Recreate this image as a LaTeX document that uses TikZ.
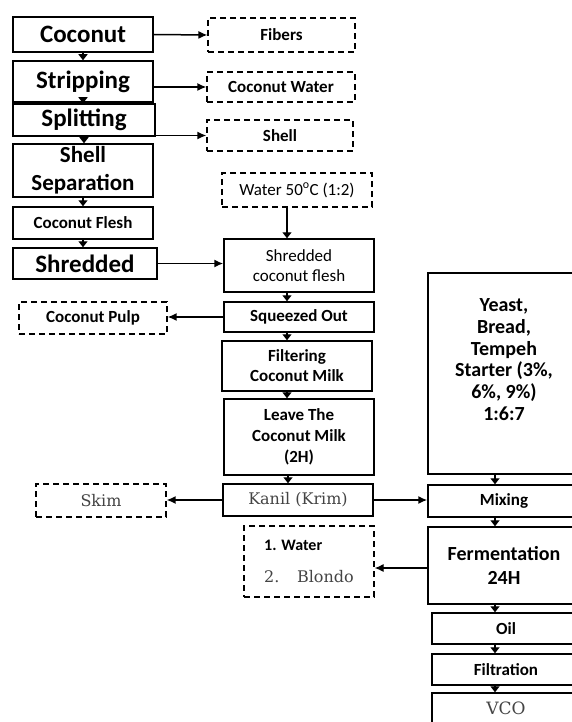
\documentclass[tikz,border=0pt]{standalone}
\usepackage{fontspec}
\setmainfont{Carlito}
\newfontfamily\serifg{DejaVu Serif}
\usetikzlibrary{arrows.meta,calc}
\definecolor{txtgray}{HTML}{444444}
\begin{document}
\begin{tikzpicture}[x=1pt,y=-1pt,
  box/.style={draw, line width=1.5pt, align=center, inner sep=1pt, font=\bfseries\fontsize{17}{20}\selectfont},
  dbox/.style={box, dash pattern=on 6pt off 4pt, line width=1.2pt},
  sz/.style 2 args={minimum width=#1, minimum height=#2},
  big/.style={font=\bfseries\fontsize{25}{28}\selectfont},
  serif/.style={font=\serifg\fontsize{16}{20}\selectfont, text=txtgray},
  harr/.style={line width=1.5pt, -{Latex[length=9pt,width=8pt]}},
  varr/.style={line width=1.4pt, -{Triangle[length=6pt,width=9pt]}}
]
\useasboundingbox (0,0) rectangle (572,722);
\clip (0,0) rectangle (572,722);
\fill[white] (0,0) rectangle (572,722);

% left column
\node[box, big, sz={140pt}{35pt}] (coconut) at (83,34.5) {Coconut};
\node[box, big, sz={140pt}{41pt}] (stripping) at (83,81.5) {Stripping};
\node[box, big, sz={142pt}{32pt}] (splitting) at (84,120) {Splitting};
\node[box, sz={140pt}{53pt}, font=\bfseries\fontsize{23}{28}\selectfont] (shellsep) at (83,170.5) {Shell\\Separation};
\node[box, sz={140pt}{32pt}] (flesh) at (83,223) {Coconut Flesh};
\node[box, big, sz={144pt}{31pt}] (shredded) at (85,263.5) {Shredded};

% dashed outputs top
\node[dbox, sz={147pt}{34pt}] (fibers) at (281.5,35) {Fibers};
\node[dbox, sz={148pt}{30pt}] (cwater) at (281,87) {Coconut Water};
\node[dbox, sz={146pt}{31pt}] (shell) at (280,135.5) {Shell};
\node[dbox, sz={150pt}{34pt}, font=\fontsize{17}{20}\selectfont] (water50) at (297,190) {Water 50\textsuperscript{o}C (1:2)};

% middle column
\node[box, sz={150pt}{53pt}, font=\fontsize{17}{20}\selectfont] (sflesh) at (299,265.5) {Shredded\\coconut flesh};
\node[box, sz={150pt}{30pt}] (squeezed) at (299,317) {Squeezed Out};
\node[dbox, sz={148pt}{32pt}] (pulp) at (93,318) {Coconut Pulp};
\node[box, sz={150pt}{50pt}] (filtering) at (297,366) {Filtering\\Coconut Milk};
\node[box, sz={150pt}{76pt}, font=\bfseries\fontsize{17}{21}\selectfont] (leave) at (299,437) {Leave The\\Coconut Milk\\(2H)};
\node[box, serif, sz={150pt}{32pt}] (kanil) at (298,500) {Kanil (Krim)};
\node[dbox, serif, sz={130pt}{33pt}] (skim) at (101,500.5) {Skim};
\node[dbox, sz={130pt}{71pt}, align=left, font=\bfseries\fontsize{16}{20}\selectfont] (blondo) at (309,561.5)
  {1. Water\\[12pt]{\mdseries\serifg\color{txtgray}2.\hspace{1.1em}Blondo}};

% right column
\node[box, sz={152pt}{201pt}, font=\bfseries\fontsize{20}{21.7}\selectfont] (yeast) at (504,373.5)
  {Yeast,\\Bread,\\Tempeh\\Starter (3\%,\\6\%, 9\%)\\1:6:7\\[6pt]\mbox{}};
\node[box, sz={152pt}{32pt}] (mixing) at (504,501) {Mixing};
\node[box, sz={152pt}{77pt}, font=\bfseries\fontsize{20}{24}\selectfont] (ferment) at (504,565.5) {Fermentation\\24H};
\node[box, sz={148pt}{31pt}] (oil) at (506,628.5) {Oil};
\node[box, sz={148pt}{31pt}] (filtration) at (506,669.5) {Filtration};
\node[box, serif, sz={148pt}{30pt}, font=\serifg\fontsize{17}{20}\selectfont] (vco) at (506,708) {VCO};

% left column arrows
\draw[varr] (coconut.south) -- (coconut.south |- stripping.north);
\draw[varr] (stripping.south) -- (stripping.south |- splitting.north);
\draw[varr] (splitting.south) -- (splitting.south |- shellsep.north);
\draw[varr] (shellsep.south) -- (shellsep.south |- flesh.north);
\draw[varr] (flesh.south) -- (flesh.south |- shredded.north);

% side outputs
\draw[harr] (coconut.east) -- (fibers.west);
\draw[harr] (stripping.east |- cwater.west) -- (cwater.west);
\draw[harr] (splitting.east |- shell.west) -- (shell.west);
\draw[varr] ([xshift=-10pt]water50.south) -- ([xshift=-10pt]water50.south |- sflesh.north);
\draw[harr] (shredded.east) -- (shredded.east -| sflesh.west);

% middle arrows
\draw[varr] ([xshift=-12pt]sflesh.south) -- ([xshift=-12pt]sflesh.south |- squeezed.north);
\draw[harr] (squeezed.west) -- (squeezed.west -| pulp.east);
\draw[varr] ([xshift=-12pt]squeezed.south) -- ([xshift=-12pt]squeezed.south |- filtering.north);
\draw[varr] ([xshift=-10pt]filtering.south) -- ([xshift=-10pt]filtering.south |- leave.north);
\draw[varr] ([xshift=-11pt]leave.south) -- ([xshift=-11pt]leave.south |- kanil.north);
\draw[harr] (kanil.west) -- (kanil.west -| skim.east);
\draw[harr] (kanil.east) -- (kanil.east -| mixing.west);

% right arrows
\draw[varr] ([xshift=-9pt]yeast.south) -- ([xshift=-9pt]yeast.south |- mixing.north);
\draw[varr] ([xshift=-9pt]mixing.south) -- ([xshift=-9pt]mixing.south |- ferment.north);
\draw[harr, line width=1.2pt] ([yshift=-2.5pt]ferment.west) -- ([yshift=-2.5pt]ferment.west -| blondo.east);
\draw[varr] ([xshift=-9pt]ferment.south) -- ([xshift=-9pt]ferment.south |- oil.north);
\draw[varr] ([xshift=-11pt]oil.south) -- ([xshift=-11pt]oil.south |- filtration.north);
\draw[varr] ([xshift=-11pt]filtration.south) -- ([xshift=-11pt]filtration.south |- vco.north);
\end{tikzpicture}
\end{document}
